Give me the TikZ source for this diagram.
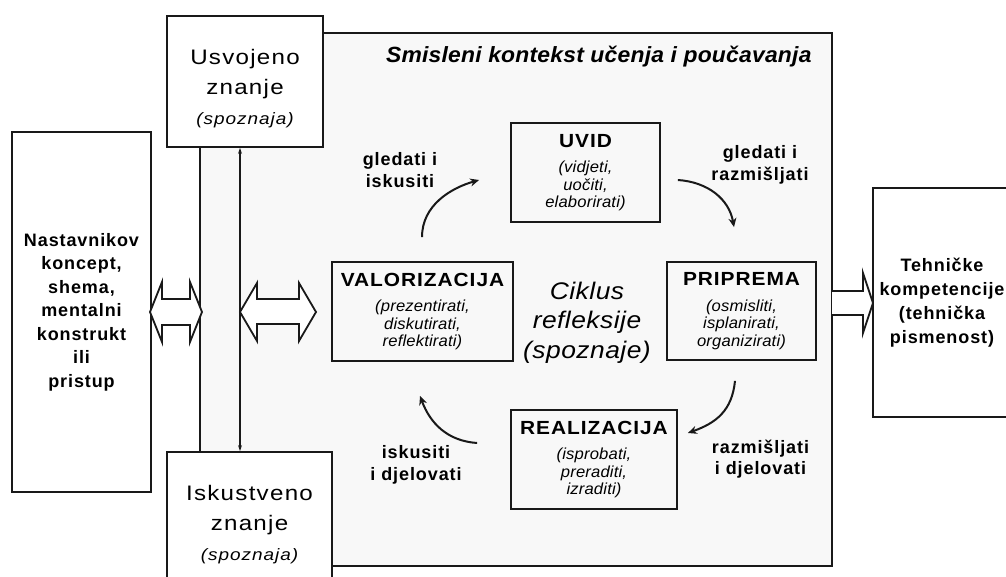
\documentclass[tikz,border=0pt]{standalone}
\usepackage{fontspec}
\setmainfont{Liberation Sans}[LetterSpace=5]
\newfontfamily\titleface{Liberation Sans}[FakeStretch=1.1, LetterSpace=5]
\newfontfamily\wideface{Liberation Sans}[FakeStretch=1.15, LetterSpace=6]
\newfontfamily\descface{Liberation Sans}[FakeStretch=1.04, LetterSpace=1]
\newfontfamily\cycface{Liberation Sans}[FakeStretch=1.1, LetterSpace=2]
\usepackage{tikz}
\usetikzlibrary{arrows.meta, positioning, calc}
\definecolor{ctxcolor}{RGB}{248,248,248}
\definecolor{linecolor}{RGB}{25,25,25}
\newcommand{\phase}[1]{{\titleface\bfseries\upshape\fontsize{19}{19}\selectfont #1}}

\begin{document}
\begin{tikzpicture}[
    x=1pt, y=1pt,
    box/.style={draw=linecolor, line width=1.8pt, minimum width=149pt, minimum height=99pt, align=center, inner sep=2pt},
    phasebox/.style={box, font=\descface\itshape\fontsize{16}{17.5}\selectfont},
    knowbox/.style={box, fill=white, minimum height=131pt, font=\wideface\fontsize{21}{30}\selectfont},
    sidebox/.style={box, fill=white, font=\bfseries\fontsize{18}{23.5}\selectfont},
    verb/.style={align=center, font=\bfseries\fontsize{18}{21.5}\selectfont},
    cyc/.style={-{Stealth[length=9pt,width=8pt]}, line width=2pt, linecolor},
    fat/.style={draw=linecolor, line width=1.8pt, fill=white}
]
    \useasboundingbox (0,0) rectangle (1006,576);

    % Learning context
    \node[box, fill=ctxcolor, minimum width=632pt, minimum height=533pt] (ctx) at (516,276.5) {};
    \node[anchor=east, font=\descface\bfseries\itshape\fontsize{22}{26}\selectfont] (ctxtitle) at (815,519) {Smisleni kontekst učenja i poučavanja};

    % Knowledge
    \node[knowbox, minimum width=156pt] (usv) at (245,494.5) {\rule{0pt}{29pt}Usvojeno\\znanje\\{\itshape\fontsize{16.5}{16.5}\selectfont (spoznaja)}};
    \node[knowbox, minimum width=165pt] (isk) at (249.5,58.5) {\rule{0pt}{29pt}Iskustveno\\znanje\\{\itshape\fontsize{16.5}{16.5}\selectfont (spoznaja)}};

    % Outer boxes
    \node[sidebox, minimum width=139pt, minimum height=360pt] (nast) at (81.5,264) {Nastavnikov\\koncept,\\shema,\\mentalni\\konstrukt\\ili\\pristup};
    \node[sidebox, minimum width=138pt, minimum height=229pt, font=\bfseries\fontsize{18}{24}\selectfont] (teh) at (942,273.5) {Tehničke\\kompetencije\\(tehnička\\pismenost)};

    % Cycle phases
    \node[phasebox] (uvid) at (585.5,403.5) {\phase{UVID}\\[8pt](vidjeti,\\uočiti,\\elaborirati)};
    \node[phasebox, minimum width=181pt] (valor) at (422.5,264.5) {\phase{VALORIZACIJA}\\[8pt](prezentirati,\\diskutirati,\\reflektirati)};
    \node[phasebox, minimum height=98pt] (prip) at (741.5,265) {\phase{PRIPREMA}\\[8pt](osmisliti,\\isplanirati,\\organizirati)};
    \node[phasebox, minimum width=166pt] (real) at (594,116.5) {\phase{REALIZACIJA}\\[8pt](isprobati,\\preraditi,\\izraditi)};
    \node[align=center, font=\cycface\itshape\fontsize{24}{29.5}\selectfont] (cycle) at (587,253.5) {Ciklus\\refleksije\\(spoznaje)};

    % Verbs
    \node[verb] (v1) at (400,406) {gledati i\\iskusiti};
    \node[verb] (v2) at (760,411) {gledati i\\razmišljati};
    \node[verb] (v3) at (760.5,117) {razmišljati\\i djelovati};
    \node[verb] (v4) at (416,111) {iskusiti\\i djelovati};

    % Cycle arrows
    \draw[cyc] ($(valor.north)+(-0.5,24)$) .. controls +(0,32) and +(-28,-8) .. ($(uvid.west)+(-31,-7.5)$);
    \draw[cyc] ($(uvid.east)+(17,-7.5)$) .. controls +(30,-2) and +(-5,28) .. ($(prip.north)+(-7.5,34)$);
    \draw[cyc] ($(prip.south)+(-6.5,-20)$) .. controls +(-3,-30) and +(28,10) .. ($(real.east)+(10,26.5)$);
    \draw[cyc] ($(real.west)+(-33,16.5)$) .. controls +(-30,2) and +(10,-27) .. ($(valor.south)+(-2.5,-34)$);

    % Knowledge link
    \draw[{Stealth[length=6pt,width=4pt]}-{Stealth[length=6pt,width=4pt]}, line width=1.3pt, linecolor] ([xshift=-5pt]usv.south) -- ([xshift=-9.5pt]isk.north);

    % Hollow arrows
    \draw[fat] (150,264) -- (162,294) -- (162,277) -- (190,277) -- (190,294) -- (202,264) -- (190,234) -- (190,251) -- (162,251) -- (162,234) -- cycle;
    \draw[fat] (240,264) -- (257,293) -- (257,277) -- (299,277) -- (299,293) -- (316,264) -- (299,235) -- (299,252) -- (257,252) -- (257,235) -- cycle;
    \draw[fat] (832,285) -- (863,285) -- (863,303) -- (873,273) -- (863,243) -- (863,261) -- (832,261);
\end{tikzpicture}
\end{document}
